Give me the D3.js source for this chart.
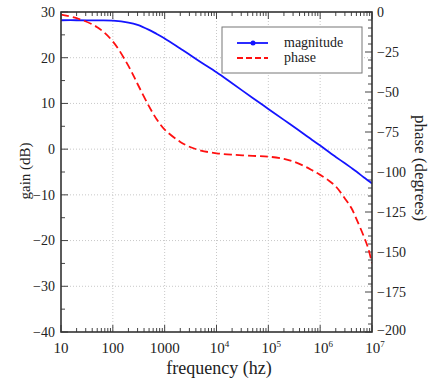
<!DOCTYPE html>
<html><head><meta charset="utf-8">
<script src="https://cdn.jsdelivr.net/npm/d3@7"></script>
<style>body{margin:0;background:#fff}svg{display:block}</style>
</head><body>
<svg id="c" width="429" height="382" font-family="'Liberation Serif','Times New Roman',serif"></svg>
<script>
const freq = [10,20,50,100,200,300,500,700,1000,2000,3000,5000,1e4,2e4,5e4,1e5,2e5,3e5,5e5,7e5,1e6,1.5e6,2e6,3e6,4e6,5e6,7e6,8.5e6,1e7];
const magnitude = [28.2,28.2,28.15,28.1,27.7,27.2,26.1,25.2,24.2,22.0,20.7,19.0,16.8,14.4,11.2,8.8,6.4,5.0,3.2,2.0,0.8,-0.7,-1.7,-3.1,-4.1,-4.9,-6.2,-6.9,-7.5];
const phase = [-1.6,-3.8,-9.5,-18.4,-33.7,-45,-59,-67,-73.5,-81.2,-84.2,-86.6,-88.3,-89.2,-89.9,-90.4,-91.8,-93.4,-96.4,-98.9,-101.8,-105.6,-109,-116.5,-122.5,-129.3,-140.5,-148,-157];
const gainTicks = [30,20,10,0,-10,-20,-30,-40];
const phaseTicks = [0,-25,-50,-75,-100,-125,-150,-175,-200];
const decadeTicks = [10,100,1000,1e4,1e5,1e6,1e7];
const decadeLabels = [["10",""],["100",""],["1000",""],["10","4"],["10","5"],["10","6"],["10","7"]];
const legendNames = ["magnitude","phase"];

const L=61,R=372,T=12,B=332;
const BLUE="#1414ff", RED="#ff1010", INK="#222";
const svg=d3.select("#c");
const x=d3.scaleLog().domain([10,1e7]).range([L,R]);
const yG=d3.scaleLinear().domain([-40,30]).range([B,T]);
const yP=d3.scaleLinear().domain([-200,0]).range([B,T]);

// grid
const grid=svg.append("g").attr("stroke","#c8c8c8").attr("stroke-width",1).attr("stroke-dasharray","1,2");
decadeTicks.slice(1,-1).forEach(f=>grid.append("line").attr("x1",x(f)).attr("x2",x(f)).attr("y1",T).attr("y2",B));
gainTicks.slice(1,-1).forEach(g=>grid.append("line").attr("x1",L).attr("x2",R).attr("y1",yG(g)).attr("y2",yG(g)));

// ticks
const tk=svg.append("g").attr("stroke","#444").attr("stroke-width",1);
const minorX=[];
for(let d=10;d<1e7;d*=10) for(let m=2;m<=9;m++) minorX.push(d*m);
decadeTicks.forEach(f=>{tk.append("line").attr("x1",x(f)).attr("x2",x(f)).attr("y1",B).attr("y2",B-7);tk.append("line").attr("x1",x(f)).attr("x2",x(f)).attr("y1",T).attr("y2",T+7);});
minorX.forEach(f=>{tk.append("line").attr("x1",x(f)).attr("x2",x(f)).attr("y1",B).attr("y2",B-4);tk.append("line").attr("x1",x(f)).attr("x2",x(f)).attr("y1",T).attr("y2",T+4);});
d3.range(-40,31,5).forEach(g=>{const len=g%10===0?7:4;tk.append("line").attr("x1",L).attr("x2",L+len).attr("y1",yG(g)).attr("y2",yG(g));});
d3.range(-200,1,5).forEach(p=>{const len=p%25===0?7:4;tk.append("line").attr("x1",R).attr("x2",R-len).attr("y1",yP(p)).attr("y2",yP(p));});

// curves
const lineG=d3.line().x((d,i)=>x(freq[i])).y(d=>yG(d)).curve(d3.curveCatmullRom.alpha(0.5));
const lineP=d3.line().x((d,i)=>x(freq[i])).y(d=>yP(d)).curve(d3.curveCatmullRom.alpha(0.5));
svg.append("clipPath").attr("id","cp").append("rect").attr("x",L).attr("y",T).attr("width",R-L).attr("height",B-T);
svg.append("path").attr("d",lineG(magnitude)).attr("fill","none").attr("stroke",BLUE).attr("stroke-width",1.8).attr("clip-path","url(#cp)");
svg.append("path").attr("d",lineP(phase)).attr("fill","none").attr("stroke",RED).attr("stroke-width",1.8).attr("stroke-dasharray","8,4").attr("clip-path","url(#cp)");

// frame
svg.append("rect").attr("x",L).attr("y",T).attr("width",R-L).attr("height",B-T).attr("fill","none").attr("stroke","#333").attr("stroke-width",1.6);

// labels
gainTicks.forEach(g=>svg.append("text").attr("x",L-6).attr("y",yG(g)).attr("dy","0.35em").attr("text-anchor","end").attr("font-size",14).attr("fill",INK).text(g<0?"\u2212"+(-g):g));
phaseTicks.forEach(p=>svg.append("text").attr("x",R+5).attr("y",yP(p)-(p===-200?2:0)).attr("dy","0.35em").attr("text-anchor","start").attr("font-size",14).attr("fill",INK).text(p<0?"\u2212"+(-p):p));
decadeTicks.forEach((f,i)=>{const t=svg.append("text").attr("x",x(f)).attr("y",353).attr("text-anchor","middle").attr("font-size",15).attr("fill",INK);
  t.append("tspan").text(decadeLabels[i][0]);
  if(decadeLabels[i][1]){ t.append("tspan").attr("dy",-6).attr("font-size",9).text(decadeLabels[i][1]); t.attr("x",x(f)+3); }
});
svg.append("text").attr("x",219).attr("y",374).attr("text-anchor","middle").attr("font-size",18).attr("fill",INK).text("frequency (hz)");
svg.append("text").attr("transform","translate(30,171) rotate(-90)").attr("text-anchor","middle").attr("font-size",15).attr("fill",INK).text("gain (dB)");
svg.append("text").attr("transform","translate(415,168) rotate(90)").attr("text-anchor","middle").attr("font-size",17).attr("fill",INK).text("phase (degrees)");

// legend
const lg=svg.append("g");
lg.append("rect").attr("x",222).attr("y",27).attr("width",140).attr("height",46).attr("fill","#fff").attr("stroke","#777").attr("stroke-width",1);
lg.append("line").attr("x1",237).attr("x2",268).attr("y1",43).attr("y2",43).attr("stroke",BLUE).attr("stroke-width",1.8);
lg.append("circle").attr("cx",253).attr("cy",43).attr("r",2.5).attr("fill",BLUE);
lg.append("line").attr("x1",237).attr("x2",268).attr("y1",58).attr("y2",58).attr("stroke",RED).attr("stroke-width",1.8).attr("stroke-dasharray","6,3");
legendNames.forEach((n,i)=>lg.append("text").attr("x",284).attr("y",47+i*15).attr("font-size",14).attr("fill",INK).text(n));
</script>
</body></html>
